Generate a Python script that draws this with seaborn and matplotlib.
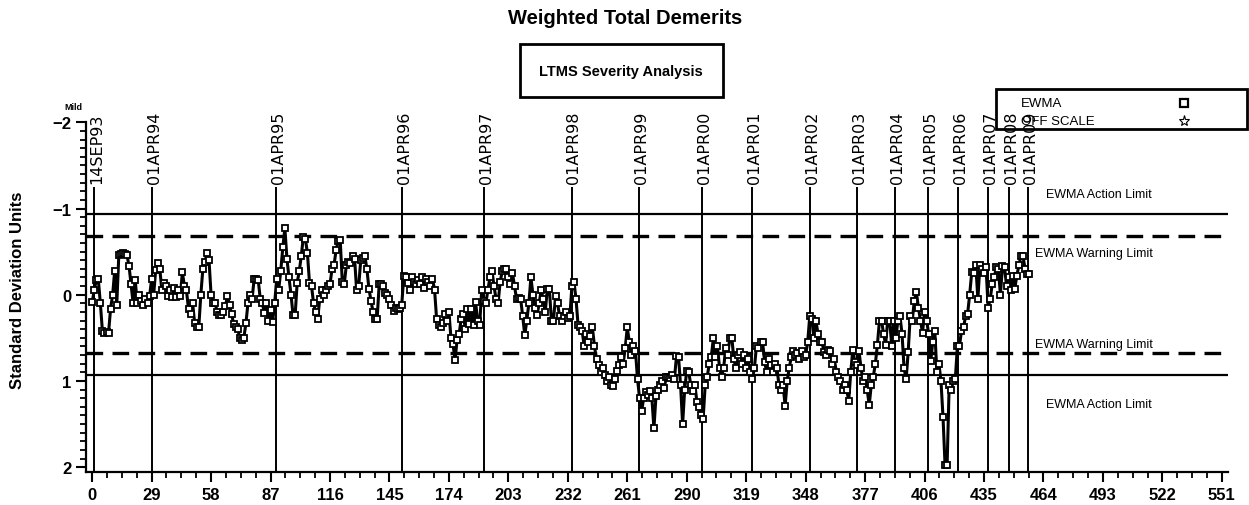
import numpy as np
import matplotlib
matplotlib.use("Agg")
import matplotlib.pyplot as plt
import seaborn as sns
from matplotlib.patches import Rectangle
from matplotlib.lines import Line2D
from matplotlib.ticker import MultipleLocator

# EWMA values (standard deviation units), one per test
ewma = [
    0.09, -0.05, -0.17, -0.18, 0.10, 0.42, 0.44, 0.43, 0.44, 0.16,
    0.00, -0.28, 0.12, -0.46, -0.47, -0.48, -0.47, -0.46, -0.33, -0.12,
    0.10, -0.17, 0.10, 0.00, 0.07, 0.12, 0.05, 0.10, 0.02, -0.18,
    0.00, -0.29, -0.37, -0.30, -0.05, -0.14, -0.10, 0.02, -0.06, 0.03,
    -0.08, 0.03, -0.05, 0.02, -0.26, -0.10, -0.05, 0.17, 0.22, 0.10,
    0.33, 0.37, 0.38, 0.00, -0.30, -0.38, -0.48, -0.40, 0.00, 0.10,
    0.10, 0.20, 0.24, 0.24, 0.20, 0.13, 0.02, 0.12, 0.22, 0.34,
    0.38, 0.40, 0.50, 0.52, 0.50, 0.33, 0.10, 0.00, 0.05, -0.18,
    -0.18, -0.17, 0.05, 0.10, 0.21, 0.10, 0.30, 0.18, 0.32, 0.10,
    -0.18, -0.06, -0.28, -0.55, -0.77, -0.42, -0.20, 0.00, 0.24, 0.24,
    -0.14, -0.27, -0.45, -0.67, -0.65, -0.48, -0.14, -0.10, 0.10, 0.20,
    0.28, 0.05, -0.05, 0.00, -0.05, -0.10, -0.12, -0.30, -0.35, -0.52,
    -0.62, -0.63, -0.15, -0.13, -0.35, -0.38, -0.37, -0.45, -0.42, -0.05,
    -0.10, -0.40, -0.43, -0.45, -0.30, -0.07, 0.07, 0.20, 0.28, 0.28,
    -0.12, -0.12, -0.10, -0.02, 0.00, 0.05, 0.12, 0.19, 0.15, 0.17,
    0.15, 0.12, -0.22, -0.20, -0.14, -0.06, -0.20, -0.15, -0.12, -0.17,
    -0.13, -0.20, -0.08, -0.18, -0.15, -0.10, -0.18, -0.06, 0.28, 0.35,
    0.38, 0.33, 0.22, 0.30, 0.20, 0.50, 0.57, 0.76, 0.52, 0.45,
    0.28, 0.22, 0.40, 0.17, 0.34, 0.16, 0.35, 0.08, 0.30, 0.35,
    -0.05, 0.07, 0.10, -0.05, -0.20, -0.28, -0.10, 0.05, 0.10, -0.15,
    -0.27, -0.30, -0.30, -0.20, -0.12, -0.25, -0.10, 0.05, 0.04, 0.05,
    0.25, 0.47, 0.30, 0.10, -0.20, 0.00, 0.15, 0.24, 0.10, -0.05,
    0.05, 0.20, -0.07, -0.07, 0.30, 0.30, 0.02, 0.10, 0.25, 0.30,
    0.25, 0.20, 0.27, 0.25, -0.10, -0.15, 0.05, 0.35, 0.37, 0.42,
    0.60, 0.45, 0.55, 0.48, 0.38, 0.60, 0.75, 0.82, 0.90, 0.85,
    0.93, 1.00, 0.95, 1.05, 1.06, 0.98, 0.88, 0.82, 0.72, 0.80,
    0.62, 0.38, 0.55, 0.70, 0.60, 0.65, 0.98, 1.20, 1.35, 1.20,
    1.13, 1.16, 1.12, 1.20, 1.55, 1.18, 1.10, 1.05, 1.00, 1.08,
    0.96, 0.95, 0.97, 0.93, 0.98, 0.71, 0.72, 1.05, 1.50, 1.10,
    0.88, 0.90, 1.05, 1.12, 1.05, 1.25, 1.30, 1.40, 1.44, 1.05,
    0.95, 0.80, 0.72, 0.50, 0.72, 0.60, 0.85, 0.95, 0.85, 0.62,
    0.70, 0.50, 0.50, 0.75, 0.85, 0.70, 0.67, 0.80, 0.70, 0.85,
    0.75, 0.90, 0.98, 0.85, 0.60, 0.62, 0.55, 0.55, 0.78, 0.90,
    0.75, 0.82, 0.90, 0.80, 0.85, 1.05, 1.10, 1.05, 1.29, 1.00,
    0.85, 0.72, 0.65, 0.70, 0.68, 0.75, 0.65, 0.72, 0.70, 0.55,
    0.25, 0.28, 0.50, 0.30, 0.45, 0.55, 0.55, 0.67, 0.70, 0.64,
    0.65, 0.80, 0.75, 0.90, 0.95, 1.00, 1.10, 1.05, 1.10, 1.23,
    0.90, 0.64, 0.78, 0.82, 0.65, 0.85, 1.00, 0.95, 1.10, 1.28,
    1.05, 0.95, 0.80, 0.58, 0.30, 0.30, 0.45, 0.58, 0.30, 0.30,
    0.60, 0.30, 0.50, 0.30, 0.25, 0.45, 0.85, 0.98, 0.67, 0.25,
    0.30, 0.07, -0.03, 0.15, 0.30, 0.44, 0.20, 0.30, 0.45, 0.77,
    0.55, 0.42, 0.90, 0.80, 1.00, 1.42, 1.98, 1.98, 1.05, 1.10,
    1.00, 0.98, 0.60, 0.60, 0.42, 0.38, 0.25, 0.22, 0.00, -0.26,
    -0.25, -0.34, 0.05, -0.34, -0.30, -0.25, -0.32, 0.15, 0.05, -0.12,
    -0.20, -0.32, -0.30, 0.00, -0.33, -0.32, -0.10, -0.20, -0.05, -0.22,
    -0.07, -0.22, -0.34, -0.45, -0.45, -0.30, -0.24, -0.24,
]
test_no = np.arange(len(ewma))

# date markers along the test axis
event_pos = [1, 29, 89.5, 151.2, 191, 233.8, 266.8, 297.3, 321.7,
             350.1, 373.2, 391.6, 407.8, 422.5, 436.8, 447.2, 456.6]
event_lab = ["14SEP93", "01APR94", "01APR95", "01APR96", "01APR97",
             "01APR98", "01APR99", "01APR00", "01APR01", "01APR02",
             "01APR03", "01APR04", "01APR05", "01APR06", "01APR07",
             "01APR08", "01APR09"]

action_lim = [-0.94, 0.93]
warning_lim = [-0.685, 0.675]

sns.set_style("ticks")
plt.rcParams["font.family"] = ["DejaVu Sans"]
plt.rcParams["text.color"] = "black"
plt.rcParams["xtick.color"] = "black"
plt.rcParams["ytick.color"] = "black"
plt.rcParams["axes.edgecolor"] = "black"
sans = "Liberation Sans"

fig = plt.figure(figsize=(12.49, 5.06), dpi=100)
ax = fig.add_axes([86 / 1249, 1 - 473.3 / 506, (1228 - 86) / 1249, (473.3 - 123.3) / 506])

sns.lineplot(x=test_no, y=ewma, ax=ax, color="black", linewidth=2.2,
             marker="s", markersize=5, markerfacecolor="white",
             markeredgecolor="black", markeredgewidth=1.3, zorder=5)

for v in action_lim:
    ax.axhline(v, color="black", lw=1.6)
for v in warning_lim:
    ax.axhline(v, color="black", lw=2.4, dashes=(5, 2.8))

ax.vlines(event_pos, -1.25, 2.06, color="black", lw=1.4)
for xp, lab in zip(event_pos, event_lab):
    ax.text(xp + 1.2, -1.30, lab, rotation=90, ha="center", va="bottom",
            fontsize=11.5, clip_on=False)

ax.text(465, -1.17, "EWMA Action Limit", family=sans, fontsize=9, va="center")
ax.text(460, -0.485, "EWMA Warning Limit", family=sans, fontsize=9, va="center")
ax.text(460, 0.57, "EWMA Warning Limit", family=sans, fontsize=9, va="center")
ax.text(465, 1.27, "EWMA Action Limit", family=sans, fontsize=9, va="center")

ax.set_xlim(-3, 554)
ax.set_ylim(2.06, -2.0)
ax.set_xticks(np.arange(0, 552, 29))
ax.xaxis.set_minor_locator(MultipleLocator(7.25))
ax.set_yticks([-2, -1, 0, 1, 2])
ax.yaxis.set_minor_locator(MultipleLocator(0.1))
ax.tick_params(which="major", length=7, width=1.5, labelsize=12, direction="out")
ax.tick_params(which="minor", length=4, width=1.3, direction="out")
for lab in ax.get_xticklabels() + ax.get_yticklabels():
    lab.set_family(sans)
    lab.set_fontweight("bold")
for s in ["left", "bottom"]:
    ax.spines[s].set_linewidth(1.6)
sns.despine(ax=ax)
ax.set_xlabel("")
ax.set_ylabel("")

fig.text(18 / 1249, 1 - 290 / 506, "Standard Deviation Units", rotation=90,
         ha="center", va="center", family=sans, fontweight="bold", fontsize=12)
fig.text(73 / 1249, 1 - 107 / 506, "Mild", ha="center", va="center",
         family=sans, fontweight="bold", fontsize=6.5)

fig.text(625 / 1249, 1 - 18 / 506, "Weighted Total Demerits", ha="center",
         va="center", family=sans, fontweight="bold", fontsize=14.5)
fig.patches.append(Rectangle((520 / 1249, 1 - 98 / 506), 203 / 1249, 53 / 506,
                             transform=fig.transFigure, fill=False, lw=2, ec="black"))
fig.text(621 / 1249, 1 - 72 / 506, "LTMS Severity Analysis", ha="center",
         va="center", family=sans, fontweight="bold", fontsize=10.5)

# legend box
fig.patches.append(Rectangle((996 / 1249, 1 - 130 / 506), 251 / 1249, 40 / 506,
                             transform=fig.transFigure, fill=False, lw=2, ec="black"))
fig.text(1021 / 1249, 1 - 104 / 506, "EWMA", va="center", family=sans, fontsize=9.5)
fig.text(1021 / 1249, 1 - 122 / 506, "OFF SCALE", va="center", family=sans, fontsize=9.5)
fig.lines.append(Line2D([1184 / 1249], [1 - 104 / 506], transform=fig.transFigure,
                        marker="s", markersize=6, mfc="white", mec="black", mew=1.6))
fig.lines.append(Line2D([1184 / 1249], [1 - 122 / 506], transform=fig.transFigure,
                        marker="*", markersize=8, mfc="white", mec="black", mew=0.8))

fig.savefig("out.png", dpi=100)
